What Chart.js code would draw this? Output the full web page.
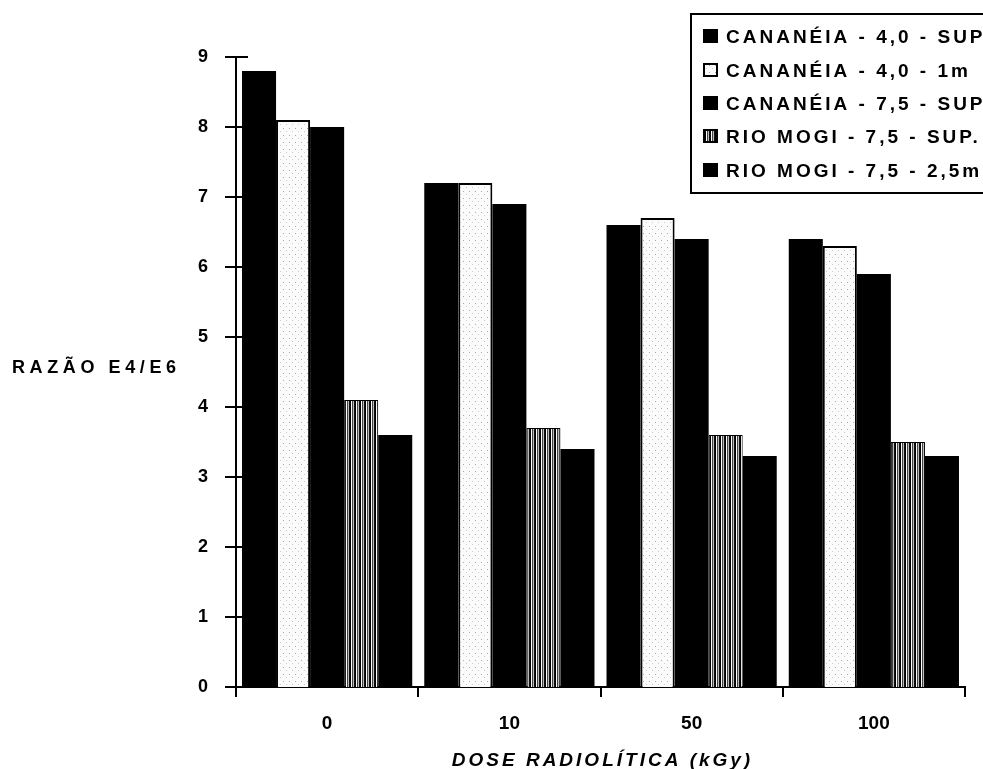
<!DOCTYPE html>
<html>
<head>
<meta charset="utf-8">
<script src="https://cdn.jsdelivr.net/npm/chart.js@4"></script>
<style>
html, body { margin: 0; padding: 0; background: #fff; }
#wrap { width: 983px; height: 769px; }
</style>
</head>
<body>
<div id="wrap"><canvas id="chart" width="983" height="769"></canvas></div>
<script>
// data
const doses = ['0', '10', '50', '100'];
const seriesNames = [
    'CANANÉIA - 4,0 - SUP',
    'CANANÉIA - 4,0 - 1m',
    'CANANÉIA - 7,5 - SUP',
    'RIO MOGI - 7,5 - SUP.',
    'RIO MOGI - 7,5 - 2,5m'
];
const cananeia40Sup = [8.8, 7.2, 6.6, 6.4];
const cananeia40m1 = [8.1, 7.2, 6.7, 6.3];
const cananeia75Sup = [8.0, 6.9, 6.4, 5.9];
const rioMogi75Sup = [4.1, 3.7, 3.6, 3.5];
const rioMogi7525m = [3.6, 3.4, 3.3, 3.3];
const yMin = 0, yMax = 9, yStep = 1;

const FONT = '"Liberation Sans", Arial, sans-serif';

function makePattern(w, h, draw) {
    const c = document.createElement('canvas');
    c.width = w;
    c.height = h;
    const g = c.getContext('2d');
    draw(g);
    return g.createPattern(c, 'repeat');
}

// light stipple for the white bar
const dotted = makePattern(6, 7, g => {
    g.fillStyle = '#fbfbfb';
    g.fillRect(0, 0, 6, 7);
    g.fillStyle = '#aaa';
    g.fillRect(1, 2, 1, 1);
    g.fillStyle = '#ccc';
    g.fillRect(4, 5, 1, 1);
});

// vertical stripes
const striped = makePattern(5, 1, g => {
    const cols = ['#000', '#fff', '#444', '#bbb', '#111'];
    cols.forEach((c, i) => { g.fillStyle = c; g.fillRect(i, 0, 1, 1); });
});

const fills = ['#000', dotted, '#000', striped, '#000'];
const values = [cananeia40Sup, cananeia40m1, cananeia75Sup, rioMogi75Sup, rioMogi7525m];

const datasets = seriesNames.map((name, i) => ({
    label: name,
    data: values[i],
    backgroundColor: fills[i],
    borderColor: '#000',
    borderWidth: i === 1 ? 2 : (i === 3 ? 1 : 0),
    borderSkipped: 'bottom'
}));

function spacedText(ctx, text, x, y, spacing, align) {
    ctx.save();
    ctx.letterSpacing = spacing + 'px';
    let w = ctx.measureText(text).width;
    let sx = x;
    if (align === 'center') sx = x - w / 2;
    ctx.textAlign = 'left';
    ctx.fillText(text, sx, y);
    ctx.restore();
}

const decorations = {
    id: 'decorations',
    afterDraw(chart) {
        const ctx = chart.ctx;
        const y = chart.scales.y;
        const x = chart.scales.x;
        ctx.save();
        ctx.strokeStyle = '#000';
        ctx.lineWidth = 2;

        // y ticks crossing the axis
        for (let v = yMin; v <= yMax; v += yStep) {
            const py = Math.round(y.getPixelForValue(v));
            ctx.beginPath();
            ctx.moveTo(x.left - 11, py);
            ctx.lineTo(x.left + (v === yMax ? 12 : 9), py);
            ctx.stroke();
        }

        // axis titles
        ctx.fillStyle = '#000';
        ctx.textBaseline = 'alphabetic';
        ctx.font = 'bold 18px ' + FONT;
        spacedText(ctx, 'RAZÃO E4/E6', 12, 373, 4.6, 'left');
        ctx.font = 'italic bold 19px ' + FONT;
        spacedText(ctx, 'DOSE RADIOLÍTICA (kGy)', (x.left + x.right) / 2 + 2, 766, 3.0, 'center');

        // legend box, open on the right where the page cuts it
        const lx = 691, ly = 14, lb = 193;
        ctx.beginPath();
        ctx.moveTo(990, ly);
        ctx.lineTo(lx, ly);
        ctx.lineTo(lx, lb);
        ctx.lineTo(990, lb);
        ctx.stroke();
        const baselines = [43, 77, 110, 143, 177];
        ctx.font = 'bold 19px ' + FONT;
        chart.data.datasets.forEach((ds, i) => {
            const by = baselines[i];
            ctx.fillStyle = ds.backgroundColor;
            ctx.fillRect(703, by - 14, 15, 14);
            if (i === 1 || i === 3) {
                ctx.lineWidth = 2;
                ctx.strokeRect(704, by - 13, 13, 12);
            }
            ctx.fillStyle = '#000';
            spacedText(ctx, ds.label, 726, by, 3.0, 'left');
        });
        ctx.restore();
    }
};

new Chart(document.getElementById('chart'), {
    type: 'bar',
    data: { labels: doses, datasets: datasets },
    options: {
        responsive: false,
        animation: false,
        devicePixelRatio: 1,
        layout: { padding: { top: 57, right: 18, left: 0, bottom: 0 } },
        categoryPercentage: 0.934,
        barPercentage: 1,
        plugins: {
            legend: { display: false },
            tooltip: { enabled: false }
        },
        scales: {
            x: {
                afterFit: s => { s.height = 82; },
                grid: {
                    offset: true,
                    drawOnChartArea: false,
                    drawTicks: true,
                    tickLength: 10,
                    color: '#000',
                    lineWidth: 2
                },
                border: { display: true, color: '#000', width: 2 },
                ticks: {
                    color: '#000',
                    padding: 15,
                    font: { family: FONT, size: 19, weight: 'bold' }
                }
            },
            y: {
                min: yMin,
                max: yMax,
                afterFit: s => { s.width = 236; },
                grid: { display: false, drawTicks: false },
                border: { display: true, color: '#000', width: 2 },
                ticks: {
                    stepSize: yStep,
                    color: '#000',
                    padding: 28,
                    font: { family: FONT, size: 18, weight: 'bold' }
                }
            }
        }
    },
    plugins: [decorations]
});
</script>
</body>
</html>
